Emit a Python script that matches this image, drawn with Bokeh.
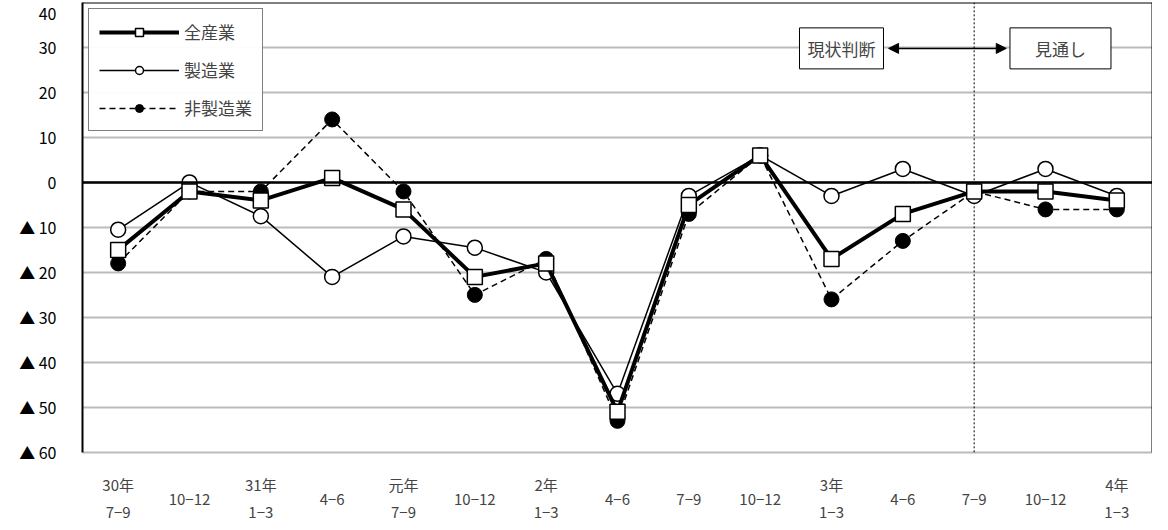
from bokeh.plotting import figure
from bokeh.models import FixedTicker, Span, Label, Range1d, Legend, LegendItem, Arrow, NormalHead
from bokeh.embed import file_html
from bokeh.resources import INLINE

categories = ["30年\n7−9", "10−12", "31年\n1−3", "4−6", "元年\n7−9", "10−12", "2年\n1−3", "4−6",
              "7−9", "10−12", "3年\n1−3", "4−6", "7−9", "10−12", "4年\n1−3"]
all_ind = [-15, -2, -4, 1, -6, -21, -18, -51, -5, 6, -17, -7, -2, -2, -4]
manuf = [-10.5, 0, -7.5, -21, -12, -14.5, -20, -47, -3, 6, -3, 3, -3, 3, -3]
nonmanuf = [-18, -2, -2, 14, -2, -25, -17, -53, -7, 6, -26, -13, -2, -6, -6]
y_ticks = [40, 30, 20, 10, 0, -10, -20, -30, -40, -50, -60]

FONT = "Noto Sans CJK JP"
xs = [i + 0.5 for i in range(len(categories))]

p = figure(width=1152, height=522, output_backend="svg", toolbar_location=None,
           x_range=Range1d(0, 15), y_range=Range1d(-75.6, 40),
           min_border_left=82, min_border_right=0, min_border_top=2, min_border_bottom=0)
p.outline_line_color = None
p.xgrid.grid_line_color = None
p.ygrid.grid_line_color = "#bbbbbb"
p.ygrid.grid_line_width = 2
p.yaxis.ticker = FixedTicker(ticks=y_ticks)
p.yaxis.bounds = (-60, 40)
p.yaxis.major_label_overrides = {t: (f"▲ {-t}" if t < 0 else str(t)) for t in y_ticks}
p.yaxis.major_label_standoff = 20
p.yaxis.major_label_text_font = FONT
p.yaxis.major_label_text_font_size = "16px"
p.yaxis.major_label_text_color = "black"
p.yaxis.major_tick_line_color = None
p.yaxis.minor_tick_line_color = None
p.yaxis.axis_line_color = "black"
p.yaxis.axis_line_width = 2
p.xaxis.visible = False

for x, c in zip(xs, categories):
    parts = c.split("\n")
    ys = [-67.2, -73.4] if len(parts) == 2 else [-70.4]
    for t, y in zip(parts, ys):
        p.add_layout(Label(x=x, y=y, text=t, text_font=FONT, text_font_size="15px",
                           text_align="center", text_baseline="middle"))

p.add_layout(Span(location=40, dimension="width", line_color="black", line_width=2))
p.segment(x0=15, y0=-60, x1=15, y1=40, line_color="black", line_width=2)
p.segment(x0=12.5, y0=-60, x1=12.5, y1=40, line_color="black", line_width=1, line_dash="2 2")
p.add_layout(Span(location=0, dimension="width", line_color="black", line_width=2.5))

l1 = p.line(xs, nonmanuf, line_color="black", line_width=1.5, line_dash="6 4")
m1 = p.scatter(xs, nonmanuf, marker="circle", size=15, fill_color="black", line_color="black")
l2 = p.line(xs, manuf, line_color="black", line_width=1.5)
m2 = p.scatter(xs, manuf, marker="circle", size=15, fill_color="white", line_color="black", line_width=1.5)
l3 = p.line(xs, all_ind, line_color="black", line_width=4)
m3 = p.scatter(xs, all_ind, marker="square", size=15, fill_color="white", line_color="black", line_width=1.5)

legend = Legend(items=[LegendItem(label="全産業", renderers=[l3, m3]),
                       LegendItem(label="製造業", renderers=[l2, m2]),
                       LegendItem(label="非製造業", renderers=[l1, m1])],
                location="top_left", label_text_font=FONT, label_text_font_size="17px",
                border_line_color="black", border_line_width=1.5, glyph_width=80,
                spacing=13, padding=10, margin=6)
p.add_layout(legend)

p.add_layout(Label(x=10.64, y=29.8, text="現状判断", text_font=FONT, text_font_size="17px",
                   text_align="center", text_baseline="middle", border_line_color="black",
                   background_fill_color="white", padding=8))
p.add_layout(Label(x=13.71, y=29.8, text="　見通し　", text_font=FONT, text_font_size="17px",
                   text_align="center", text_baseline="middle", border_line_color="black",
                   background_fill_color="white", padding=8))
p.add_layout(Arrow(x_start=11.3, y_start=29.8, x_end=12.95, y_end=29.8, line_width=1.5,
                   end=NormalHead(size=10, fill_color="black"), start=NormalHead(size=10, fill_color="black")))

open("out.html", "w").write(file_html(p, INLINE))
